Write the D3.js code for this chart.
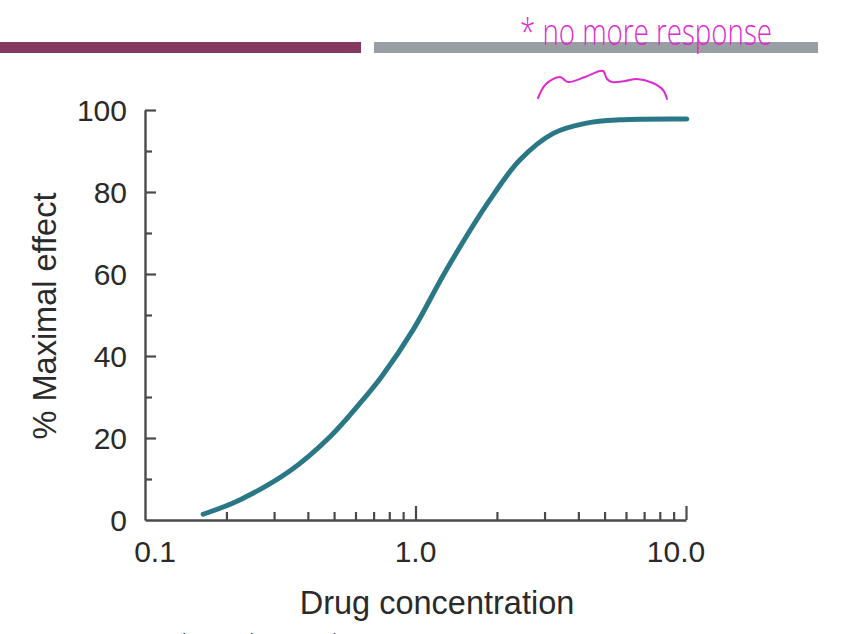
<!DOCTYPE html>
<html>
<head>
<meta charset="utf-8">
<script src="https://cdn.jsdelivr.net/npm/d3@7"></script>
<style>
  html, body { margin: 0; padding: 0; background: #fff; overflow: hidden; }
  svg { display: block; }
</style>
</head>
<body>
<svg id="chart" width="868" height="634"></svg>
<script>
// ---- data ----
const concentration = [0.164, 0.224, 0.344, 0.483, 0.624, 0.75, 0.982, 1.30, 1.88, 2.43, 3.23, 4.29, 5.70, 10.07];
const effect        = [1.4,   4.9,   12.0,  20.3,  28.5,  35.0, 46.5,  61.0, 78.0, 87.8, 94.3, 96.8, 97.6, 97.8];
const xTickLabels = ["0.1", "1.0", "10.0"];
const xTickValues = [0.1, 1, 10];
const xMinorTicks = [0.2,0.3,0.4,0.5,0.6,0.7,0.8,0.9,2,3,4,5,6,7,8,9];
const yTickLabels = ["0", "20", "40", "60", "80", "100"];
const yTickValues = [0, 20, 40, 60, 80, 100];
const yMinorTicks = [10, 30, 50, 70, 90];
const xTitle = "Drug concentration";
const yTitle = "% Maximal effect";
const note = "* no more response";
const source = "Source: Janet L. Stringer: Basic Concepts in";

const svg = d3.select("#chart");
const font = "'Liberation Sans', Arial, Helvetica, sans-serif";
const axisColor = "#4a4a4a";
const textColor = "#2a2a2a";

// header bars
svg.append("rect").attr("x", 0).attr("y", 42).attr("width", 361).attr("height", 11).attr("fill", "#84375f");
svg.append("rect").attr("x", 374).attr("y", 42).attr("width", 444).attr("height", 11).attr("fill", "#989ea4");

// scales
const x = d3.scaleLog().domain([0.1, 10]).range([145, 686]);
const y = d3.scaleLinear().domain([0, 100]).range([520, 110]);

function styleAxis(g) {
  g.selectAll("path.domain").attr("stroke", axisColor).attr("stroke-width", 2.4);
  g.selectAll(".tick line").attr("stroke", axisColor).attr("stroke-width", 2.2);
  g.selectAll(".tick text").remove();
}

// x axis
svg.append("g").attr("transform", `translate(0,${y(0)})`)
  .call(d3.axisBottom(x).tickValues(xMinorTicks).tickSize(-8).tickSizeOuter(0).tickFormat(""))
  .call(styleAxis);
svg.append("g").attr("transform", `translate(0,${y(0)})`)
  .call(d3.axisBottom(x).tickValues([1, 10]).tickSize(-14).tickSizeOuter(0).tickFormat(""))
  .call(styleAxis)
  .call(g => g.select("path.domain").remove());

// y axis
svg.append("g").attr("transform", `translate(${x(0.1)},0)`)
  .call(d3.axisLeft(y).tickValues(yMinorTicks).tickSize(-7).tickSizeOuter(0).tickFormat(""))
  .call(styleAxis);
svg.append("g").attr("transform", `translate(${x(0.1)},0)`)
  .call(d3.axisLeft(y).tickValues(yTickValues.filter(v => v > 0)).tickSize(-11).tickSizeOuter(0).tickFormat(""))
  .call(styleAxis)
  .call(g => g.select("path.domain").remove());

// x tick labels
const xLabelShift = [10, 0, -10];
svg.append("g").selectAll("text").data(xTickValues).join("text")
  .attr("x", (d, i) => x(d) + xLabelShift[i])
  .attr("y", 562)
  .attr("text-anchor", "middle")
  .attr("font-family", font).attr("font-size", 30).attr("fill", textColor)
  .text((d, i) => xTickLabels[i]);

// y tick labels
svg.append("g").selectAll("text").data(yTickValues).join("text")
  .attr("x", 127)
  .attr("y", d => y(d) + 11)
  .attr("text-anchor", "end")
  .attr("font-family", font).attr("font-size", 30).attr("fill", textColor)
  .text((d, i) => yTickLabels[i]);

// axis titles
svg.append("text").attr("x", 437).attr("y", 614).attr("text-anchor", "middle")
  .attr("font-family", font).attr("font-size", 32.5).attr("fill", textColor).text(xTitle);
svg.append("text").attr("transform", "translate(56,316) rotate(-90)").attr("text-anchor", "middle")
  .attr("font-family", font).attr("font-size", 32.5).attr("fill", textColor).text(yTitle);

// curve
const pts = concentration.map((c, i) => [c, effect[i]]);
svg.append("path").datum(pts)
  .attr("fill", "none").attr("stroke", "#2a7886").attr("stroke-width", 5).attr("stroke-linecap", "round")
  .attr("d", d3.line().x(d => x(d[0])).y(d => y(d[1])).curve(d3.curveCatmullRom.alpha(0.5)));

// handwritten annotation
svg.append("text").attr("x", 520).attr("y", 45)
  .attr("font-family", "'Open Sans', 'DejaVu Sans', sans-serif").attr("font-weight", 300)
  .attr("font-size", 36).attr("fill", "#e02ad0")
  .attr("textLength", 252).attr("lengthAdjust", "spacingAndGlyphs")
  .text(note);
const brace = [[538, 98], [546, 84], [560, 77], [568, 82], [585, 77], [603, 71], [607, 79], [612, 82], [625, 81], [637, 79], [653, 83], [663, 90], [667, 99]];
svg.append("path").datum(brace)
  .attr("fill", "none").attr("stroke", "#e02ad0").attr("stroke-width", 2).attr("stroke-linecap", "round")
  .attr("d", d3.line().curve(d3.curveCatmullRom));

// cropped source line
svg.append("text").attr("x", 50).attr("y", 644)
  .attr("font-family", font).attr("font-size", 15).attr("fill", "#333").text(source);
</script>
</body>
</html>
